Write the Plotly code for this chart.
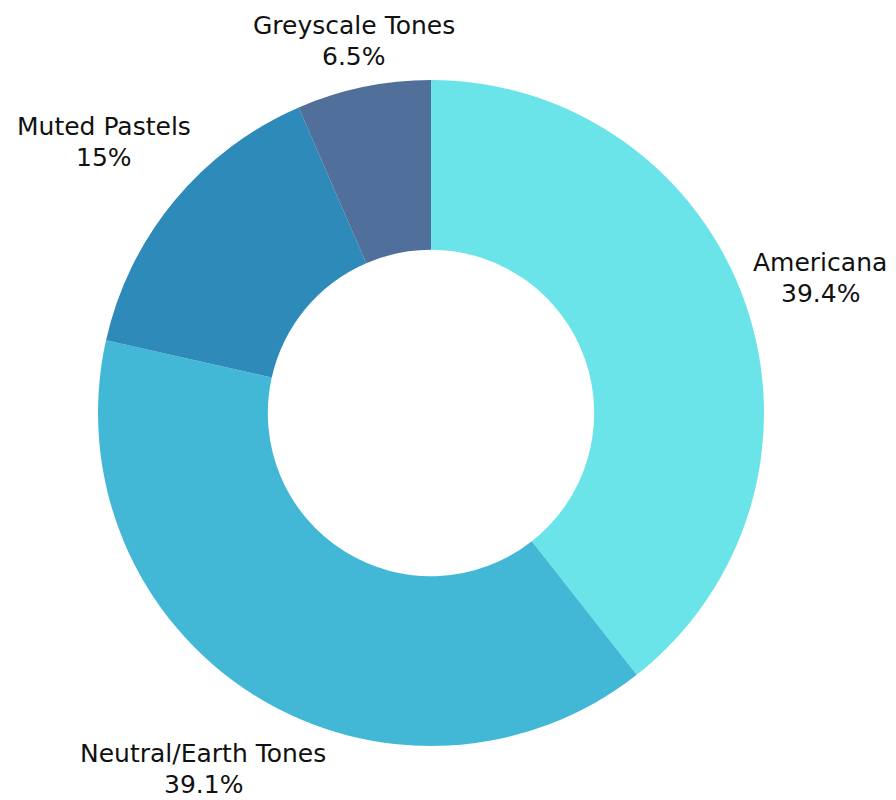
import math
import plotly.graph_objects as go

labels = ["Americana", "Neutral/Earth Tones", "Muted Pastels", "Greyscale Tones"]
values = [39.4, 39.1, 15, 6.5]
pct_text = ["39.4%", "39.1%", "15%", "6.5%"]
colors = ["#6ae4e8", "#42b8d6", "#2e8ab8", "#506f9a"]

# geometry (pixels of the figure; page has an 8px body margin)
FIG_W, FIG_H = 888, 792
PLOT = 666                     # square plot area -> pie diameter
M_L, M_T = 90, 72
M_R = FIG_W - M_L - PLOT
M_B = FIG_H - M_T - PLOT
FONT_SIZE = 25
LINE_GAP = 31                  # distance between the two label lines
CHAR_W = 13.8                  # approx. label glyph width for placement
LABEL_GAP = 17
LABEL_VPAD = 9
EDGE_PAD = FONT_SIZE * 0.62    # keep text boxes inside the figure

fig = go.Figure(go.Pie(
    labels=labels,
    values=values,
    hole=0.49,
    sort=False,
    direction="clockwise",
    rotation=0,
    automargin=False,
    marker=dict(colors=colors, line=dict(width=0)),
    textinfo="none",
    showlegend=False,
    hoverinfo="label+percent",
    domain=dict(x=[0, 1], y=[0, 1]),
))

# outside labels placed along each slice's mid-angle (computed from the values)
total = sum(values)
R = PLOT / 2
cum = 0.0
annotations = []
for lab, val, pt in zip(labels, values, pct_text):
    mid = (cum + val / 2) / total * 2 * math.pi
    cum += val
    s, c = math.sin(mid), math.cos(mid)
    half_w = len(lab) * CHAR_W / 2
    dist = R + LABEL_GAP + half_w * abs(s) + LABEL_VPAD * abs(c)
    # block centre in figure pixels (y downwards)
    px = M_L + R + dist * s
    py = M_T + R - dist * c
    # keep both lines inside the figure
    low = py + LINE_GAP / 2
    if low > FIG_H - EDGE_PAD:
        py -= low - (FIG_H - EDGE_PAD)
    high = py - LINE_GAP / 2
    if high < EDGE_PAD:
        py += EDGE_PAD - high
    for txt, yy in ((lab, py - LINE_GAP / 2), (pt, py + LINE_GAP / 2)):
        annotations.append(dict(
            x=(px - M_L) / PLOT, y=1 - (yy - M_T) / PLOT,
            xref="paper", yref="paper",
            text=txt, showarrow=False,
            xanchor="center", yanchor="middle",
            font=dict(family="DejaVu Sans", size=FONT_SIZE, color="#111111"),
        ))

fig.update_layout(
    width=FIG_W, height=FIG_H,
    margin=dict(l=M_L, r=M_R, t=M_T, b=M_B, autoexpand=False),
    paper_bgcolor="white",
    plot_bgcolor="white",
    annotations=annotations,
)

fig.write_html("out.html")
